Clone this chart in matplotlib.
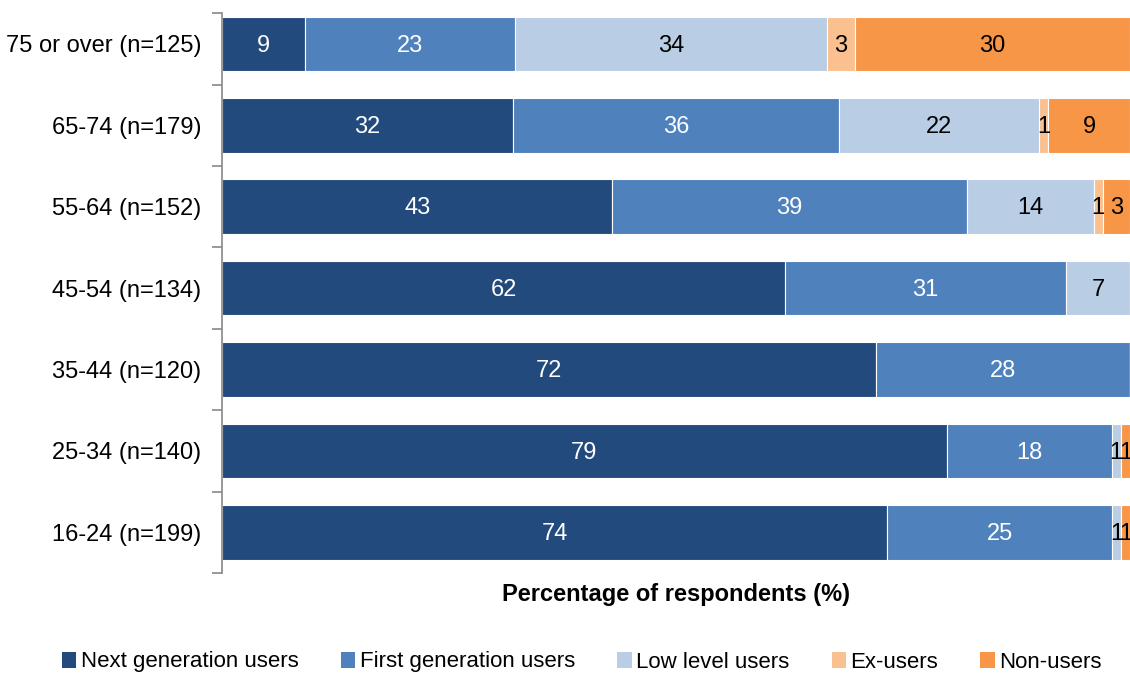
import numpy as np
import matplotlib
matplotlib.use('Agg')
from matplotlib import pyplot as plt
from matplotlib.patches import Patch

plt.rcParams['font.family'] = ['Liberation Sans', 'DejaVu Sans']

# age groups, bottom to top
groups = ['16-24 (n=199)', '25-34 (n=140)', '35-44 (n=120)', '45-54 (n=134)',
          '55-64 (n=152)', '65-74 (n=179)', '75 or over (n=125)']
series = ['Next generation users', 'First generation users', 'Low level users',
          'Ex-users', 'Non-users']
next_gen = [74, 79, 72, 62, 43, 32, 9]
first_gen = [25, 18, 28, 31, 39, 36, 23]
low_level = [1, 1, 0, 7, 14, 22, 34]
ex_users = [0, 0, 0, 0, 1, 1, 3]
non_users = [1, 1, 0, 0, 3, 9, 30]

colors = ['#234a7c', '#4f81bd', '#b9cde5', '#fac090', '#f79646']
txt_colors = ['white', 'white', 'black', 'black', 'black']

data = np.array([next_gen, first_gen, low_level, ex_users, non_users], dtype=float)
shares = data / data.sum(axis=0) * 100   # 100% stacked like the original

fig = plt.figure(figsize=(11.3, 6.75), dpi=100)
ax = fig.add_axes([222/1130, 1 - 573/675, 1 - 222/1130, 560/675])

y = np.arange(len(groups))
left = np.zeros(len(groups))
for k in range(len(series)):
    ax.barh(y, shares[k], left=left, height=0.67, color=colors[k],
            edgecolor='white', linewidth=0.8, label=series[k])
    for i in range(len(groups)):
        if data[k, i] > 0:
            ax.text(left[i] + shares[k, i] / 2, y[i] - 0.02, '%d' % data[k, i],
                    ha='center', va='center', fontsize=17, color=txt_colors[k])
    left += shares[k]

ax.set_xlim(0, 100)
ax.set_ylim(-0.49, 6.38)
ax.set_yticks(y)
ax.set_yticklabels(groups, fontsize=17)
ax.tick_params(axis='y', which='major', length=0, pad=15)
ax.set_yticks(list(np.arange(-0.5, 6, 1.0)) + [6.38], minor=True)
ax.tick_params(axis='y', which='minor', length=7, color='#888888', width=1.2)
ax.set_xticks([])
for s in ['top', 'right', 'bottom']:
    ax.spines[s].set_visible(False)
ax.spines['left'].set_color('#888888')
ax.spines['left'].set_linewidth(1.2)

fig.text(676/1130, 1 - 594/675, 'Percentage of respondents (%)', ha='center',
         va='center', fontsize=17, fontweight='bold')

handles = [Patch(facecolor=c, edgecolor='none') for c in colors]
fig.legend(handles, series, loc='center', bbox_to_anchor=(0.515, 1 - 662/675),
           ncol=5, frameon=False, fontsize=16, handlelength=0.65, handleheight=0.7,
           handletextpad=0.2, columnspacing=1.9)

plt.savefig('out.png', dpi=100)
